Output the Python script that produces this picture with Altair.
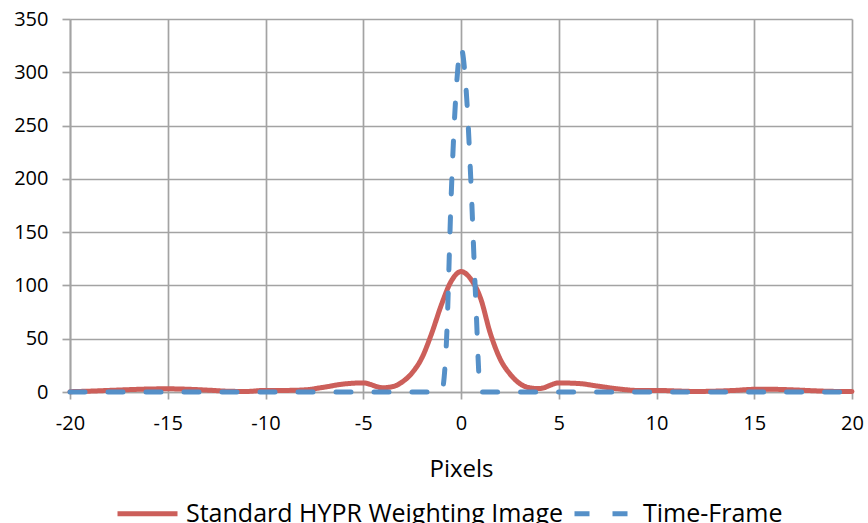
import altair as alt
import pandas as pd

series_names = ["Standard HYPR Weighting Image", "Time-Frame"]
series_colors = ["#cc5f5a", "#5590c8"]

red_x = [-20, -19, -18, -17, -16, -15, -14, -13, -12, -11, -10, -9, -8, -7, -6, -5, -4, -3.5, -3, -2.5, -2, -1.5,
         -1, -0.5, 0, 0.5, 1, 1.5, 2, 2.5, 3, 3.5, 4, 5, 6, 7, 8, 9, 10, 11, 12, 13, 14, 15, 16, 17, 18, 19, 20]
red_y = [0.3, 0.8, 1.5, 2.2, 2.8, 3.0, 2.6, 1.8, 0.8, 0.5, 1.5, 1.5, 2.0, 4.5, 7.5, 8.5, 4.0, 5.0, 9.5, 18, 32, 55,
         82, 104, 113, 106, 88, 55, 31, 17, 8, 4, 3.2, 8.5, 8.0, 5.5, 3.0, 1.5, 1.5, 1.0, 0.5, 0.8, 1.5, 2.5, 2.5,
         2.0, 1.2, 0.6, 0.5]

blue_x = [-20, -19, -18, -17, -16, -15, -14, -13, -12, -11, -10, -9, -8, -7, -6, -5, -4, -3, -2, -1,
          -0.75, -0.5, -0.25, 0, 0.25, 0.5, 0.75,
          1, 2, 3, 4, 5, 6, 7, 8, 9, 10, 11, 12, 13, 14, 15, 16, 17, 18, 19, 20]
blue_y = [0] * 20 + [45, 185, 282, 323, 287, 200, 88] + [0] * 20

x_ticks = [-20, -15, -10, -5, 0, 5, 10, 15, 20]
y_ticks = [0, 50, 100, 150, 200, 250, 300, 350]

rows = []
for xv, yv in zip(red_x, red_y):
    rows.append({"x": xv, "y": yv, "series": series_names[0], "order": 0})
for xv, yv in zip(blue_x, blue_y):
    rows.append({"x": xv, "y": yv, "series": series_names[1], "order": 1})
df = pd.DataFrame(rows)

GRID = "#a3a3a3"

legend = alt.Legend(
    title=None,
    orient="none",
    legendX=45,
    legendY=462,
    direction="horizontal",
    symbolType="stroke",
    symbolSize=3600,
    symbolStrokeWidth=5,
    labelFontSize=25,
    labelFont="Open Sans",
    labelColor="#000000",
    labelOffset=6,
    columnPadding=0,
    labelLimit=600,
)

chart = alt.Chart(df).mark_line(strokeWidth=5, strokeCap="round", interpolate="monotone").encode(
    x=alt.X("x:Q",
            scale=alt.Scale(domain=[-20, 20], nice=False, zero=False),
            axis=alt.Axis(values=x_ticks, title="Pixels", labelExpr="'' + datum.value",
                          labelFlush=False, tickSize=7, labelPadding=14, titlePadding=24)),
    y=alt.Y("y:Q",
            scale=alt.Scale(domain=[0, 350], nice=False),
            axis=alt.Axis(values=y_ticks, title=None, tickSize=8, labelPadding=14, labelFlush=False)),
    color=alt.Color("series:N", scale=alt.Scale(domain=series_names, range=series_colors), legend=legend),
    strokeDash=alt.StrokeDash("series:N",
                              scale=alt.Scale(domain=series_names, range=[[1, 0], [15, 23]]),
                              legend=legend),
    order=alt.Order("order:Q"),
).properties(
    width=782,
    height=373,
    autosize=alt.AutoSizeParams(type="none"),
    padding={"left": 70, "top": 19, "right": 16, "bottom": 131},
).configure_view(
    stroke=None
).configure_axis(
    grid=True,
    gridColor=GRID,
    gridWidth=1.7,
    domainColor=GRID,
    domainWidth=1.7,
    tickColor=GRID,
    tickWidth=1.7,
    labelFont="Open Sans",
    labelFontSize=20,
    labelColor="#000000",
    titleFont="Open Sans",
    titleFontSize=24,
    titleFontWeight="normal",
    titleColor="#000000",
)

chart.save("out.html", embed_options={"renderer": "svg", "actions": False})
